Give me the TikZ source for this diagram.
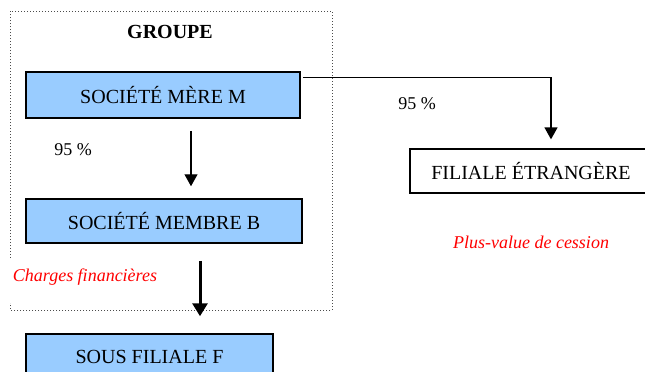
\documentclass[tikz,border=0pt]{standalone}
\usepackage{fontspec}
\setmainfont{Liberation Serif}
\usetikzlibrary{arrows.meta}
\definecolor{boxblue}{HTML}{99CCFF}
\definecolor{labelred}{HTML}{FF0000}
\tikzset{
  entity/.style={draw=black, line width=1.5pt, fill=boxblue, inner sep=0pt,
    font=\fontsize{20}{24}\selectfont},
  plainentity/.style={draw=black, line width=1.3pt, fill=white, inner sep=0pt,
    font=\fontsize{20}{24}\selectfont},
  share/.style={font=\fontsize{18}{22}\selectfont},
  note/.style={text=labelred, font=\fontsize{18}{22}\selectfont\itshape},
  link/.style={draw=black, line width=1.3pt, -{Triangle[width=13pt,length=12pt]}},
  heavylink/.style={draw=black, line width=3pt, -{Triangle[width=15pt,length=13pt]}},
  groupframe/.style={draw=black!70, line width=1pt, dotted}
}
\begin{document}
\begin{tikzpicture}[x=1pt,y=-1pt]
  \useasboundingbox (0,0) rectangle (645,372);
  \clip (0,0) rectangle (645,372);

  % group frame, left side interrupted by the label
  \draw[groupframe] (10,258) -- (10,11) -- (332,11) -- (332,310) -- (10,310) -- (10,303);
  \node[font=\fontsize{20}{24}\selectfont\bfseries] (groupe) at (170,32) {GROUPE};

  % companies
  \node[entity, minimum width=274pt, minimum height=46pt] (M) at (163,95) {SOCIÉTÉ MÈRE M};
  \node[entity, minimum width=276pt, minimum height=44pt] (B) at (164,221) {SOCIÉTÉ MEMBRE B};
  \node[entity, minimum width=247pt, minimum height=46pt] (F) at (149.5,357) {SOUS FILIALE F};
  \node[plainentity, minimum width=242pt, minimum height=44pt] (E) at (531,171) {FILIALE ÉTRANGÈRE};

  % holdings
  \draw[link] ([xshift=28pt,yshift=-12pt]M.south) -- ([xshift=27pt,yshift=12pt]B.north);
  \draw[heavylink] ([xshift=36pt,yshift=-17pt]B.south) -- ([xshift=50.5pt,yshift=17pt]F.north);
  \draw[link] ([xshift=2pt,yshift=-6pt]M.north east) -| ([xshift=20pt,yshift=9pt]E.north);

  % labels
  \node[share] (pM) at (73,150) {95 \%};
  \node[share] (pE) at (417,104) {95 \%};
  \node[note] (charges) at (85,277) {Charges financières};
  \node[note] (plusvalue) at (531,242) {Plus-value de cession};
\end{tikzpicture}
\end{document}
